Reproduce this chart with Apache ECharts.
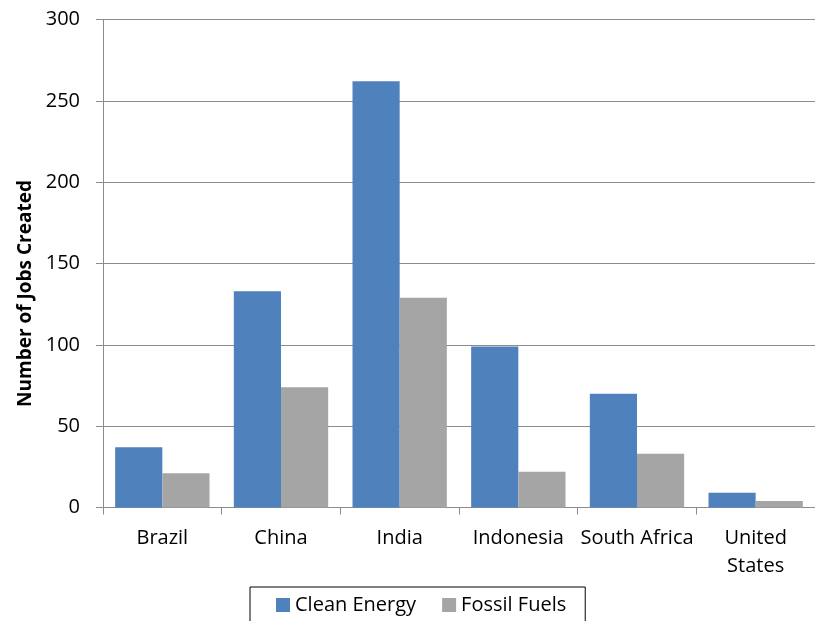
<!DOCTYPE html>
<html><head><meta charset="utf-8">
<script src="https://cdn.jsdelivr.net/npm/echarts@6/dist/echarts.min.js"></script>
<style>html,body{margin:0;padding:0;background:#fff}#c{width:815px;height:621px}</style>
</head><body><div id="c"></div>
<script>
const categories = ['Brazil', 'China', 'India', 'Indonesia', 'South Africa', 'United\nStates'];
const cleanEnergy = [37, 133, 262, 99, 70, 9];
const fossilFuels = [21, 74, 129, 22, 33, 4];
const yTicks = [0, 50, 100, 150, 200, 250, 300];

const chart = echarts.init(document.getElementById('c'));
const font = 'Open Sans';
const gray = '#8c8c8c';
chart.setOption({
  animation: false,
  grid: { left: 103, width: 720, top: 19.5, bottom: 113.5 },
  legend: {
    top: 587, left: 250,
    itemWidth: 14, itemHeight: 14, itemGap: 26,
    borderColor: '#000', borderWidth: 1,
    padding: [8, 19, 24, 26],
    textStyle: { fontFamily: font, fontSize: 20, color: '#000' },
    icon: 'rect',
    data: ['Clean Energy', 'Fossil Fuels']
  },
  xAxis: {
    type: 'category', data: categories,
    axisLine: { lineStyle: { color: gray } },
    axisTick: { show: true, length: 7, lineStyle: { color: gray } },
    axisLabel: { fontFamily: font, fontSize: 20, color: '#000', margin: 17, lineHeight: 28, interval: 0 }
  },
  yAxis: {
    type: 'value', min: yTicks[0], max: yTicks[yTicks.length - 1], interval: 50,
    name: 'Number of Jobs Created', nameLocation: 'middle', nameGap: 64,
    nameTextStyle: { fontFamily: font, fontSize: 19, fontWeight: 'bold', color: '#000', padding: [0, 60, 0, 0] },
    axisLine: { show: true, lineStyle: { color: gray } },
    axisTick: { show: true, length: 7, lineStyle: { color: gray } },
    axisLabel: { fontFamily: font, fontSize: 20, color: '#000', margin: 23 },
    splitLine: { lineStyle: { color: gray, width: 1 } }
  },
  series: [
    { name: 'Clean Energy', type: 'bar', data: cleanEnergy, barGap: '0%', barCategoryGap: '20.5%',
      itemStyle: { color: '#4f81bd' } },
    { name: 'Fossil Fuels', type: 'bar', data: fossilFuels,
      itemStyle: { color: '#a5a5a5' } }
  ]
});
</script></body></html>
